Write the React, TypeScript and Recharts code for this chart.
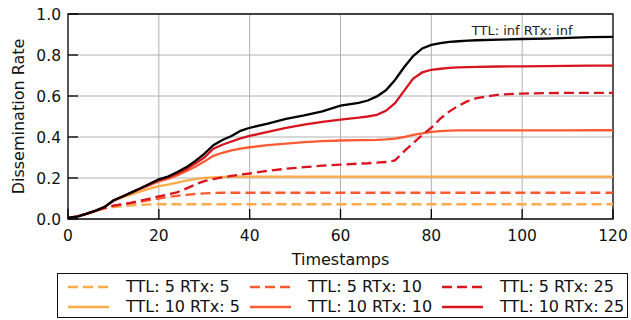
import React from 'react';
import { LineChart, Line, XAxis, YAxis, CartesianGrid, ReferenceArea, ReferenceDot, Label } from 'recharts';

const timestamps = [0, 2, 4, 6, 8, 10, 12, 14, 16, 18, 20, 22, 24, 26, 28, 30, 32, 34, 36, 38, 40, 44, 48, 52, 56, 60, 64, 66, 68, 70, 72, 74, 76, 78, 80, 82, 84, 86, 88, 90, 95, 100, 105, 110, 115, 120];

const ttl5rtx5 = [0.005, 0.012, 0.025, 0.04, 0.052, 0.058, 0.062, 0.066, 0.069, 0.071, 0.072, 0.072, 0.072, 0.072, 0.072, 0.072, 0.072, 0.072, 0.072, 0.072, 0.072, 0.072, 0.072, 0.072, 0.072, 0.072, 0.072, 0.072, 0.072, 0.072, 0.072, 0.072, 0.072, 0.072, 0.072, 0.072, 0.072, 0.072, 0.072, 0.072, 0.072, 0.072, 0.072, 0.072, 0.072, 0.072];
const ttl10rtx5 = [0.005, 0.012, 0.025, 0.04, 0.056, 0.088, 0.105, 0.12, 0.135, 0.148, 0.16, 0.168, 0.177, 0.187, 0.195, 0.2, 0.203, 0.205, 0.206, 0.207, 0.207, 0.207, 0.207, 0.207, 0.207, 0.207, 0.207, 0.207, 0.207, 0.207, 0.207, 0.207, 0.207, 0.207, 0.207, 0.207, 0.207, 0.207, 0.207, 0.207, 0.207, 0.207, 0.207, 0.207, 0.207, 0.207];
const ttl5rtx10 = [0.005, 0.012, 0.025, 0.04, 0.053, 0.064, 0.071, 0.078, 0.085, 0.092, 0.1, 0.107, 0.113, 0.118, 0.122, 0.125, 0.127, 0.128, 0.128, 0.128, 0.128, 0.128, 0.128, 0.128, 0.128, 0.128, 0.128, 0.128, 0.128, 0.128, 0.128, 0.128, 0.128, 0.128, 0.128, 0.128, 0.128, 0.128, 0.128, 0.128, 0.128, 0.128, 0.128, 0.128, 0.128, 0.128];
const ttl10rtx10 = [0.005, 0.012, 0.025, 0.04, 0.057, 0.09, 0.11, 0.128, 0.147, 0.165, 0.183, 0.196, 0.213, 0.233, 0.255, 0.28, 0.308, 0.323, 0.335, 0.343, 0.35, 0.36, 0.368, 0.375, 0.38, 0.383, 0.385, 0.385, 0.386, 0.388, 0.392, 0.4, 0.41, 0.418, 0.425, 0.429, 0.431, 0.432, 0.432, 0.432, 0.432, 0.432, 0.432, 0.432, 0.433, 0.433];
const ttl5rtx25 = [0.005, 0.012, 0.025, 0.04, 0.053, 0.065, 0.072, 0.08, 0.09, 0.1, 0.11, 0.12, 0.13, 0.148, 0.168, 0.185, 0.195, 0.203, 0.21, 0.217, 0.222, 0.235, 0.245, 0.253, 0.26, 0.265, 0.27, 0.272, 0.275, 0.278, 0.286, 0.33, 0.37, 0.41, 0.445, 0.49, 0.525, 0.553, 0.575, 0.59, 0.607, 0.612, 0.614, 0.615, 0.615, 0.615];
const ttl10rtx25 = [0.005, 0.012, 0.025, 0.04, 0.058, 0.09, 0.11, 0.13, 0.15, 0.17, 0.19, 0.203, 0.222, 0.243, 0.27, 0.3, 0.343, 0.362, 0.378, 0.393, 0.405, 0.425, 0.445, 0.46, 0.474, 0.485, 0.494, 0.5, 0.508, 0.528, 0.565, 0.625, 0.685, 0.715, 0.728, 0.733, 0.737, 0.74, 0.741, 0.742, 0.744, 0.745, 0.746, 0.747, 0.748, 0.748];
const ttlInfRtxInf = [0.005, 0.012, 0.025, 0.04, 0.058, 0.09, 0.11, 0.13, 0.15, 0.172, 0.193, 0.207, 0.228, 0.252, 0.282, 0.318, 0.36, 0.385, 0.405, 0.43, 0.445, 0.465, 0.488, 0.505, 0.525, 0.553, 0.567, 0.578, 0.598, 0.628, 0.678, 0.74, 0.795, 0.832, 0.849, 0.858, 0.864, 0.867, 0.87, 0.872, 0.875, 0.878, 0.88, 0.884, 0.887, 0.888];

const xTicks = [0, 20, 40, 60, 80, 100, 120];
const yTicks = [0, 0.2, 0.4, 0.6, 0.8, 1.0];

const seriesKeys = ['s55', 's105', 's510', 's1010', 's525', 's1025'];
const seriesNames = ['TTL: 5 RTx: 5', 'TTL: 10 RTx: 5', 'TTL: 5 RTx: 10', 'TTL: 10 RTx: 10', 'TTL: 5 RTx: 25', 'TTL: 10 RTx: 25'];
const seriesColors = ['#fdaa4a', '#fdaa4a', '#fc5a32', '#fc5a32', '#d7141f', '#d7141f'];
const seriesDashed = [true, false, true, false, true, false];
const seriesValues = [ttl5rtx5, ttl10rtx5, ttl5rtx10, ttl10rtx10, ttl5rtx25, ttl10rtx25];

const infName = 'TTL: inf RTx: inf';
const infLabelX = 100;
const infLabelY = 0.92;

const data = timestamps.map((t, i) => {
  const row: Record<string, number> = { t, inf: ttlInfRtxInf[i] };
  seriesKeys.forEach((k, j) => {
    row[k] = seriesValues[j][i];
  });
  return row;
});

const FONT = '"DejaVu Sans", sans-serif';
const DASH = '10 5';

// legend layout: column-major, 3 columns x 2 rows
const legendCols = [68, 250, 442];
const legendRows = [287, 307];
const sampleLen = 41;
const textGap = 17;

export default function App() {
  return (
    <div style={{ position: 'absolute', left: 0, top: 0, width: 631, height: 320, background: '#fff', fontFamily: FONT }}>
      <LineChart
        width={631}
        height={320}
        data={data}
        margin={{ top: 14, right: 18, left: 8, bottom: 71 }}
      >
        <CartesianGrid stroke="#b0b0b0" strokeWidth={1} horizontalValues={yTicks} verticalValues={xTicks} />
        <XAxis
          dataKey="t"
          type="number"
          domain={[0, 120]}
          ticks={xTicks}
          height={30}
          axisLine={false}
          tickSize={-10}
          tickMargin={21}
          tickLine={{ stroke: '#000', strokeWidth: 1.3 }}
          tick={{ fill: '#111', fontSize: 15.5, fontFamily: FONT }}
          interval={0}
        >
          <Label value="Timestamps" position="bottom" offset={5} style={{ fill: '#111', fontSize: 16, fontFamily: FONT }} />
        </XAxis>
        <YAxis
          type="number"
          domain={[0, 1]}
          ticks={yTicks}
          width={60}
          axisLine={false}
          tickSize={-10}
          tickMargin={17}
          tickLine={{ stroke: '#000', strokeWidth: 1.3 }}
          tickFormatter={(v: number) => v.toFixed(1)}
          tick={{ fill: '#111', fontSize: 15.5, fontFamily: FONT }}
          interval={0}
        >
          <Label value="Dissemination Rate" angle={-90} position="center" dx={-20} style={{ fill: '#111', fontSize: 16, fontFamily: FONT, textAnchor: 'middle' }} />
        </YAxis>
        {seriesKeys.map((k, j) => (
          <Line
            key={k}
            dataKey={k}
            name={seriesNames[j]}
            type="linear"
            stroke={seriesColors[j]}
            strokeWidth={2.3}
            strokeDasharray={seriesDashed[j] ? DASH : undefined}
            dot={false}
            activeDot={false}
            isAnimationActive={false}
          />
        ))}
        <Line dataKey="inf" name={infName} type="linear" stroke="#000" strokeWidth={2.3} dot={false} activeDot={false} isAnimationActive={false} />
        <ReferenceArea x1={0} x2={120} y1={0} y2={1} fill="none" stroke="#111" strokeWidth={1.3} ifOverflow="visible" />
        <ReferenceDot x={infLabelX} y={infLabelY} r={0} fill="none" stroke="none" ifOverflow="visible"
          label={{ value: infName, position: 'center', fill: '#222', fontSize: 13, fontFamily: FONT }} />
      </LineChart>
      <div style={{ position: 'absolute', left: 57, top: 273, width: 571, height: 45, border: '1.3px solid #111', boxSizing: 'border-box' }} />
      {seriesNames.map((name, j) => {
        const col = Math.floor(j / 2);
        const row = j % 2;
        const x = legendCols[col];
        const y = legendRows[row];
        return (
          <div key={name} style={{ position: 'absolute', left: x, top: y - 10, height: 20, display: 'flex', alignItems: 'center', whiteSpace: 'nowrap' }}>
            <svg width={sampleLen} height={20} style={{ display: 'block' }}>
              <line x1={0} y1={10} x2={sampleLen} y2={10} stroke={seriesColors[j]} strokeWidth={2.3} strokeDasharray={seriesDashed[j] ? DASH : undefined} />
            </svg>
            <span style={{ marginLeft: textGap, fontSize: 16, color: '#111', fontFamily: FONT, lineHeight: '20px' }}>{name}</span>
          </div>
        );
      })}
    </div>
  );
}
